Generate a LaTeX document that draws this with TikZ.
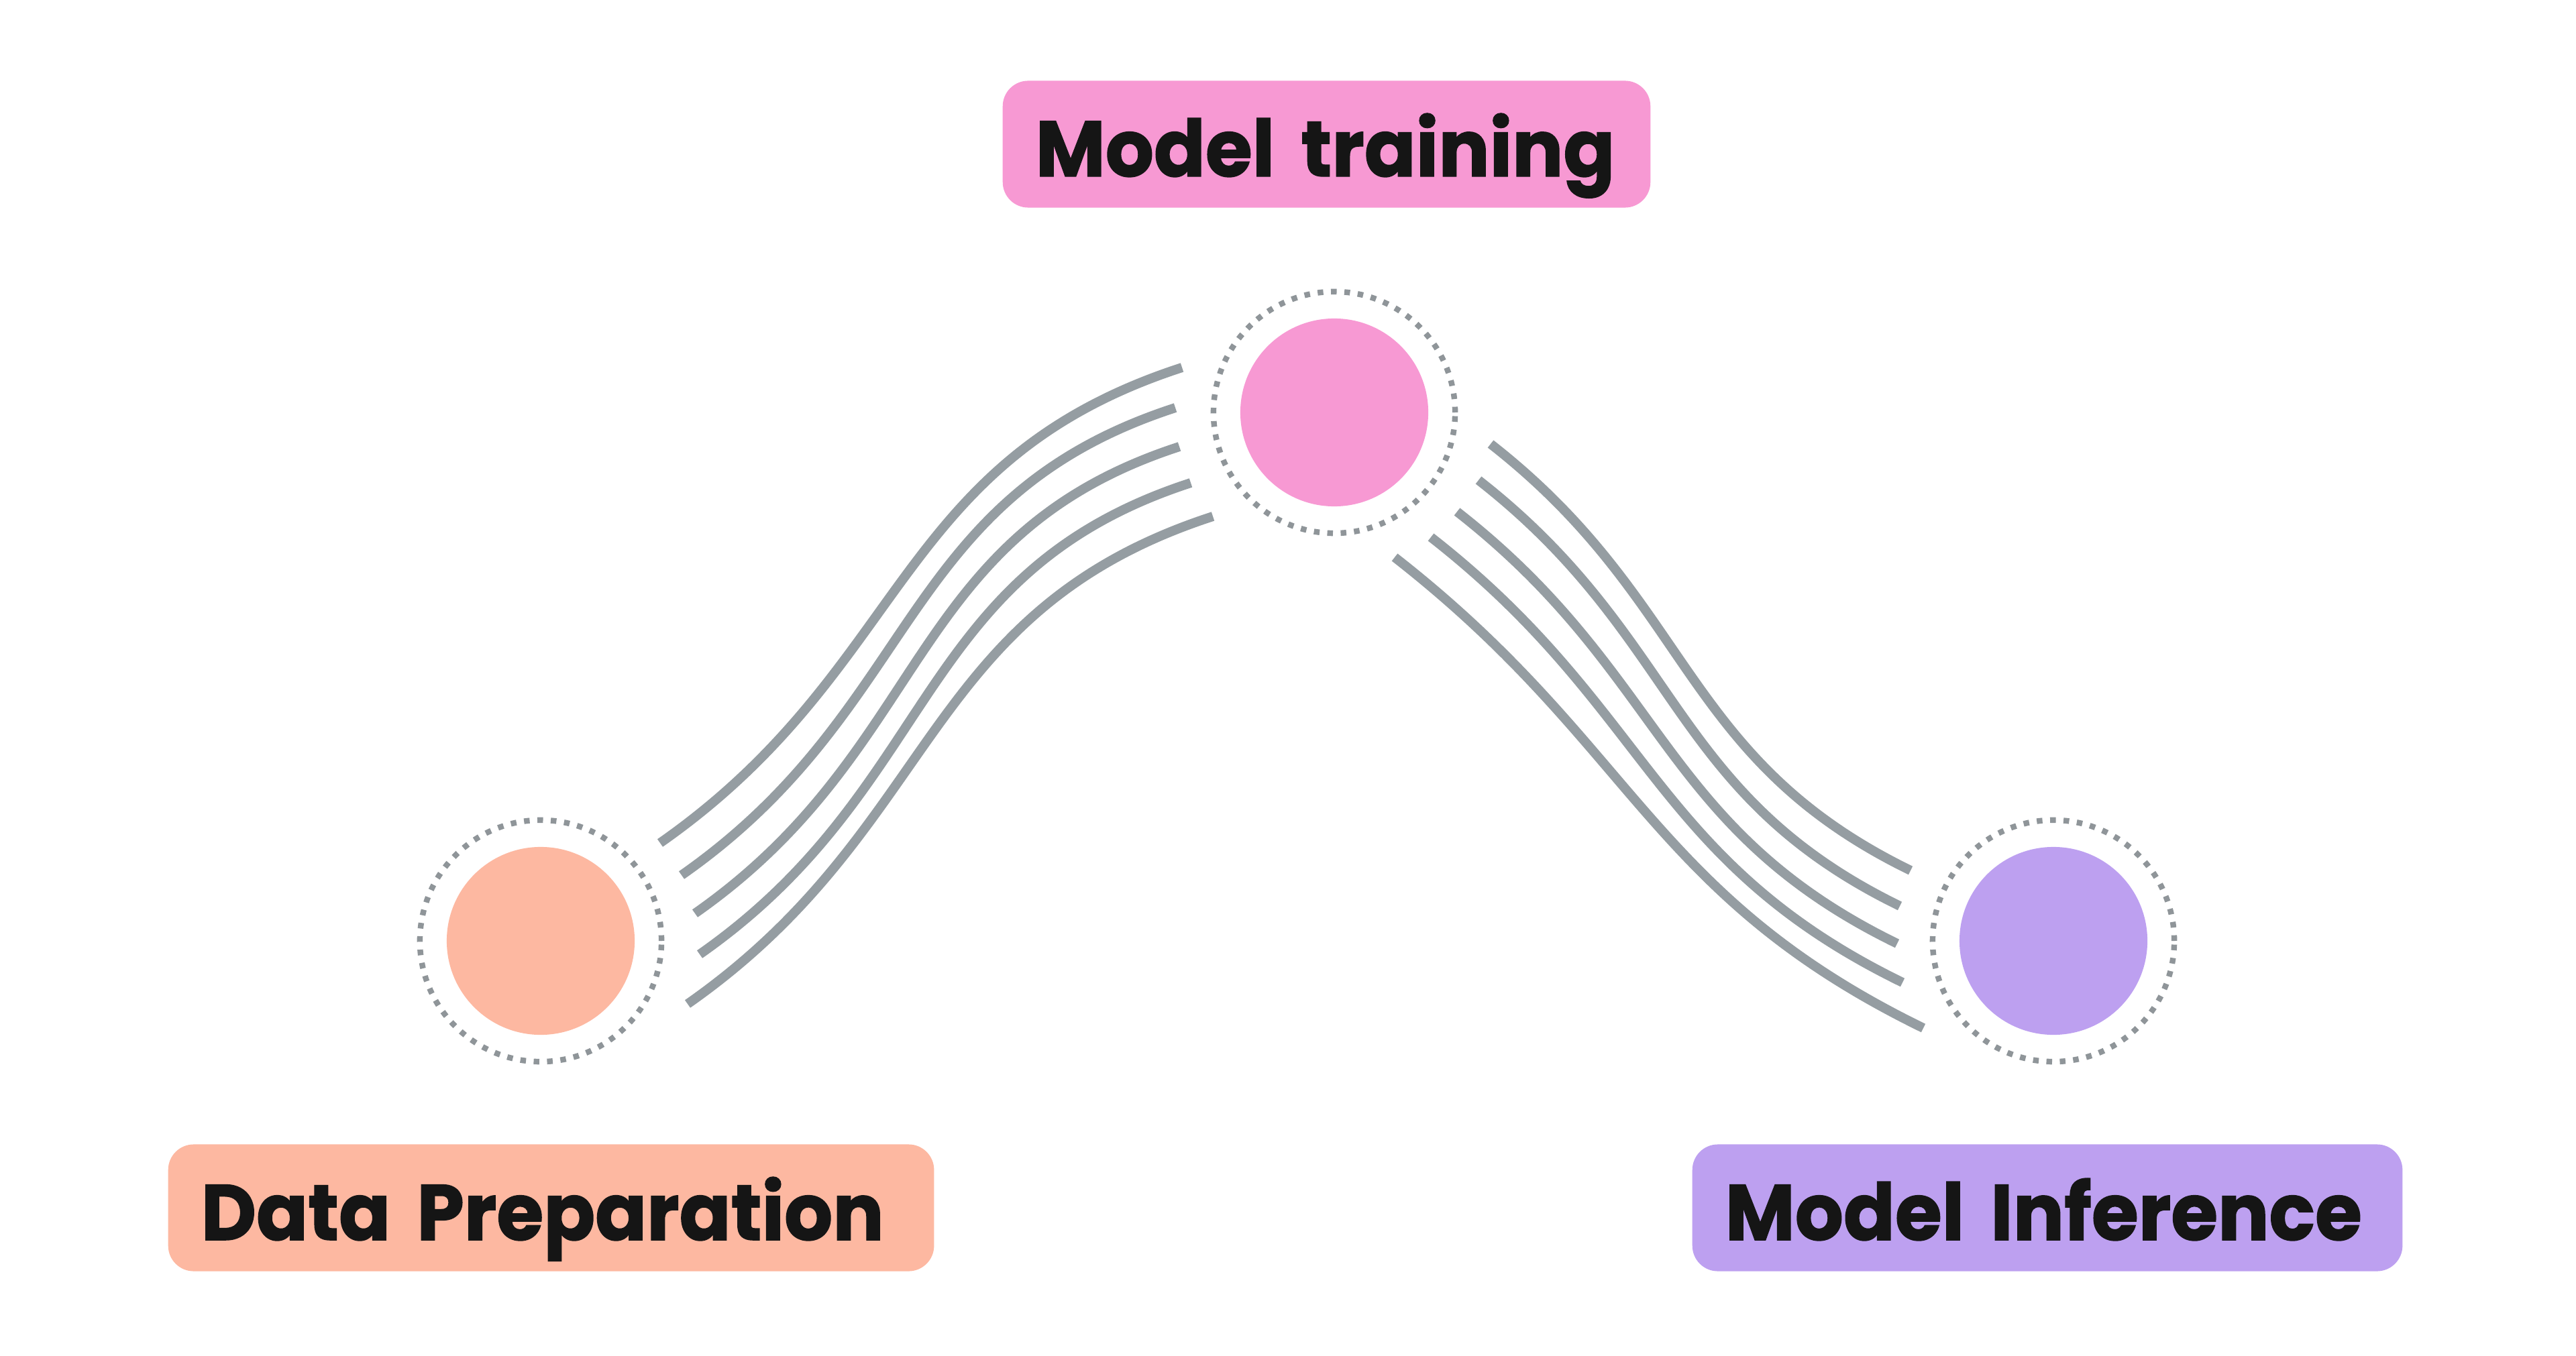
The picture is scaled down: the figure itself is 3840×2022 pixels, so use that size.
\documentclass[tikz,border=0pt]{standalone}
\usepackage{fontspec}
\setmainfont{Poppins}[FakeStretch=0.965,FakeBold=1.2]
\definecolor{salmon}{HTML}{FDB8A1}
\definecolor{pinkc}{HTML}{F799D3}
\definecolor{lavender}{HTML}{BDA0F0}
\definecolor{curvegray}{HTML}{959DA2}
\definecolor{dotgray}{HTML}{8F9599}
\definecolor{textblack}{HTML}{151515}
\begin{document}
\begin{tikzpicture}[x=0.01cm,y=0.01cm]
\tikzset{
  bundle/.style={draw=curvegray, line width=0.14cm, line cap=butt},
  ringdots/.style={circle, draw=dotgray, line width=2.4pt, dash pattern=on 2.4pt off 3.276pt, minimum size=3.6cm, inner sep=0pt},
  disc/.style={circle, minimum size=2.8cm, inner sep=0pt},
  tagbox/.style={rounded corners=0.38cm, minimum height=1.89cm, inner xsep=0.49cm, inner ysep=0pt, text height=0.96cm, text depth=0pt, align=left, font=\fontsize{33.4pt}{40pt}\selectfont\bfseries, text=textblack, anchor=west}
}
\useasboundingbox[fill=white] (0,0) rectangle (3840,-2022);

% circles
\node[disc, fill=salmon] (dp) at (806,-1403) {};
\node[disc, fill=pinkc] (mt) at (1989,-615) {};
\node[disc, fill=lavender] (mi) at (3061,-1403) {};
\node[ringdots] (dpr) at (dp) {};
\node[ringdots] (mtr) at (mt) {};
\node[ringdots] (mir) at (mi) {};

% labels
\node[tagbox, fill=pinkc, text width=8.67cm] (mtl) at (1494,-215) {\mbox{Model training}};
\node[tagbox, fill=salmon, text width=10.43cm] (dpl) at (250,-1801) {\mbox{Data Preparation}};
\node[tagbox, fill=lavender, text width=9.60cm] (mil) at (2522,-1801) {\mbox{Model Inference}};

% left bundle end points
\coordinate (l1s) at (984,-1257);  \coordinate (l1e) at (1762,-548);
\coordinate (l2s) at (1016,-1305); \coordinate (l2e) at (1752,-608);
\coordinate (l3s) at (1036,-1362); \coordinate (l3e) at (1758,-666);
\coordinate (l4s) at (1043,-1423); \coordinate (l4e) at (1775,-720);
\coordinate (l5s) at (1025,-1497); \coordinate (l5e) at (1808,-770);
% right bundle end points
\coordinate (r1s) at (2222,-662);  \coordinate (r1e) at (2848,-1298);
\coordinate (r2s) at (2204,-716);  \coordinate (r2e) at (2832,-1351);
\coordinate (r3s) at (2172,-763);  \coordinate (r3e) at (2828,-1407);
\coordinate (r4s) at (2133,-801);  \coordinate (r4e) at (2836,-1465);
\coordinate (r5s) at (2079,-831);  \coordinate (r5e) at (2867,-1533);

\foreach \i in {1,...,5}{
  \draw[bundle] (l\i s) to[out=35,in=198,looseness=1.1] (l\i e);
  \draw[bundle] (r\i s) to[out=-38,in=154,looseness=1.1] (r\i e);
}
\end{tikzpicture}
\end{document}
